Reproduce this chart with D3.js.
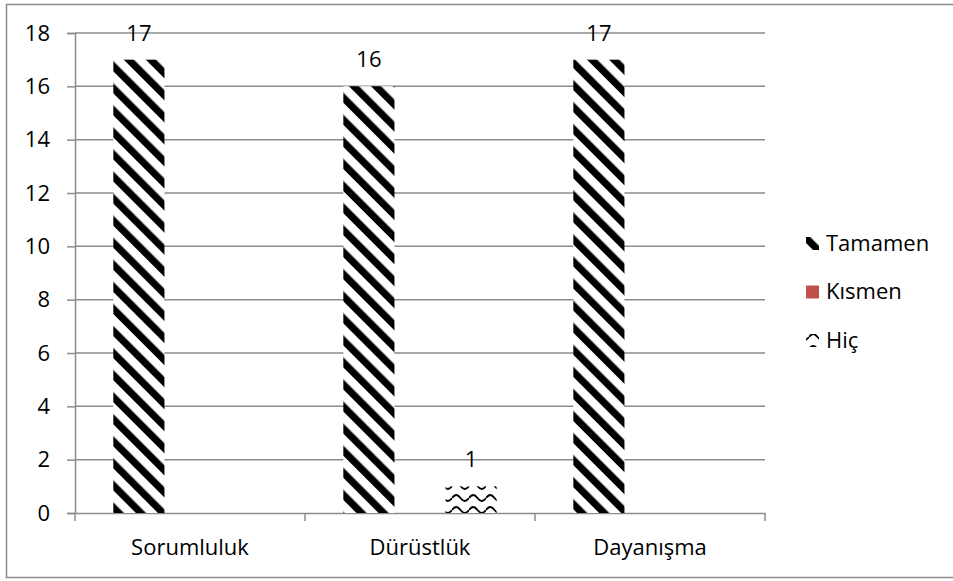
<!DOCTYPE html>
<html>
<head>
<meta charset="utf-8">
<script src="https://d3js.org/d3.v7.min.js"></script>
<style>
  html, body { margin: 0; padding: 0; background: #fff; }
  svg text { font-family: "Open Sans", "Liberation Sans", sans-serif; fill: #000; }
</style>
</head>
<body>
<svg id="chart" width="953" height="581"></svg>
<script>
// Values per category and answer
const categories = ["Sorumluluk", "Dürüstlük", "Dayanışma"];
const series = ["Tamamen", "Kısmen", "Hiç"];
const tamamen = [17, 16, 17];
const kismen = [0, 0, 0];
const hic = [0, 1, 0];
const yTicks = [0, 2, 4, 6, 8, 10, 12, 14, 16, 18];

const seriesValues = [tamamen, kismen, hic];

const svg = d3.select("#chart");
const W = 953, H = 581;
const margin = { left: 75, right: 188, top: 33, bottom: 68 };
const plotW = W - margin.left - margin.right;
const plotH = H - margin.top - margin.bottom;
const FS = 22;

// Outer frame
svg.append("rect")
  .attr("x", 6.5).attr("y", 4.5)
  .attr("width", 960).attr("height", 573)
  .attr("fill", "none").attr("stroke", "#8c8c8c").attr("stroke-width", 1.5);

// Fill patterns
const defs = svg.append("defs");
const diag = defs.append("pattern")
  .attr("id", "diag").attr("patternUnits", "userSpaceOnUse")
  .attr("width", 15.6).attr("height", 30)
  .attr("patternTransform", "rotate(-45)");
diag.append("rect").attr("width", 15.6).attr("height", 30).attr("fill", "#fff");
diag.append("rect").attr("x", 0).attr("width", 7.2).attr("height", 30).attr("fill", "#000");

const wave = defs.append("pattern")
  .attr("id", "wave").attr("patternUnits", "userSpaceOnUse")
  .attr("width", 17).attr("height", 12).attr("x", 445).attr("y", 484);
wave.append("rect").attr("width", 17).attr("height", 12).attr("fill", "#fff");
wave.append("path")
  .attr("d", "M0,5 C3,1 5.5,1 8.5,5 C11.5,9 14,9 17,5")
  .attr("fill", "none").attr("stroke", "#000").attr("stroke-width", 1.8);

const fills = ["url(#diag)", "#C0504D", "url(#wave)"];

const g = svg.append("g").attr("transform", `translate(${margin.left},${margin.top})`);

const y = d3.scaleLinear().domain([0, 18]).range([plotH, 0]);
const x0 = d3.scaleBand().domain(categories).range([0, plotW]).paddingInner(0).paddingOuter(0);
const x1 = d3.scaleBand().domain(series).range([0, x0.bandwidth()]).paddingInner(0).paddingOuter(0.75);

// Gridlines
g.append("g").selectAll("line").data(yTicks.filter(d => d > 0)).join("line")
  .attr("x1", 0).attr("x2", plotW)
  .attr("y1", d => y(d)).attr("y2", d => y(d))
  .attr("stroke", "#8c8c8c").attr("stroke-width", 1.5);

// Y axis
const yAxis = g.append("g")
  .call(d3.axisLeft(y).tickValues(yTicks).tickSize(8).tickPadding(17));
yAxis.select(".domain").attr("stroke", "#8c8c8c").attr("stroke-width", 1.5);
yAxis.selectAll(".tick line").attr("stroke", "#8c8c8c").attr("stroke-width", 1.5);
yAxis.selectAll(".tick text").attr("font-size", FS).attr("font-family", "Open Sans");

// X axis
const xAxis = g.append("g").attr("transform", `translate(0,${plotH})`)
  .call(d3.axisBottom(x0).tickSize(0).tickPadding(26));
xAxis.select(".domain").attr("stroke", "#8c8c8c").attr("stroke-width", 1.5);
xAxis.selectAll(".tick text").attr("font-size", FS).attr("font-family", "Open Sans");
// category separator ticks
g.append("g").selectAll("line").data(d3.range(categories.length + 1)).join("line")
  .attr("x1", d => d * x0.bandwidth()).attr("x2", d => d * x0.bandwidth())
  .attr("y1", plotH).attr("y2", plotH + 8)
  .attr("stroke", "#8c8c8c").attr("stroke-width", 1.5);

// Bars
const rows = [];
categories.forEach((c, i) => series.forEach((s, j) => rows.push({ c, s, j, v: seriesValues[j][i] })));

g.append("g").selectAll("rect").data(rows.filter(d => d.v > 0)).join("rect")
  .attr("x", d => x0(d.c) + x1(d.s))
  .attr("y", d => y(d.v))
  .attr("width", x1.bandwidth())
  .attr("height", d => y(0) - y(d.v))
  .attr("fill", d => fills[d.j]);

// Value labels
g.append("g").selectAll("text").data(rows.filter(d => d.v > 0)).join("text")
  .attr("x", d => x0(d.c) + x1(d.s) + x1.bandwidth() / 2)
  .attr("y", d => y(d.v) - 19)
  .attr("text-anchor", "middle")
  .attr("font-size", FS)
  .text(d => d.v);

// Legend
const legend = svg.append("g").attr("transform", "translate(806,243)");
const li = legend.selectAll("g").data(series).join("g")
  .attr("transform", (d, i) => `translate(0,${i * 48.5})`);
li.append("rect").attr("x", 0).attr("y", -6).attr("width", 13).attr("height", 13)
  .attr("fill", (d, i) => fills[i]);
li.append("text").attr("x", 20).attr("y", 0).attr("dy", "0.35em")
  .attr("font-size", FS).text(d => d);
</script>
</body>
</html>
